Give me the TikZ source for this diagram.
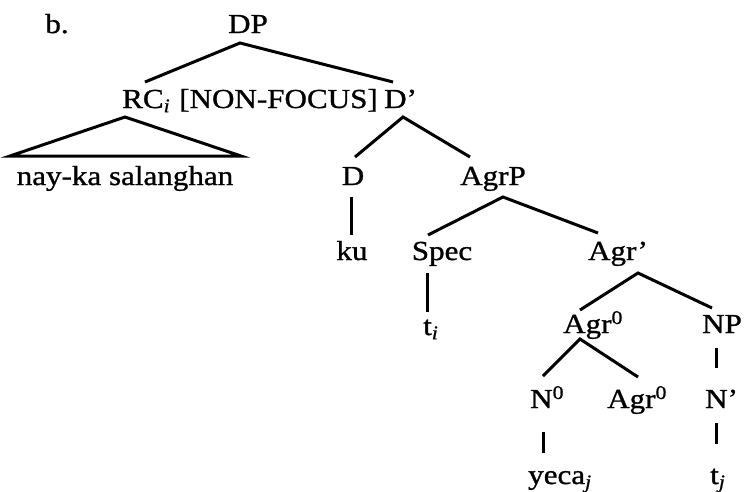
\documentclass[tikz,border=0pt]{standalone}
\usepackage{fontspec}
\setmainfont{Liberation Serif}[FakeStretch=1.13,FakeBold=1.0]
\usetikzlibrary{calc}
\newcommand\lsub[1]{\textsubscript{\itshape #1}}
\newcommand\lsup[1]{\textsuperscript{#1}}
\begin{document}
\begin{tikzpicture}[x=1pt,y=-1pt,
  lbl/.style={inner sep=0pt,font=\fontsize{27.5}{30}\selectfont},
  br/.style={line width=3pt}]
\useasboundingbox (0,0) rectangle (747,491);
% nodes
\node[lbl,anchor=base] (b) at (57,33) {b.};
\node[lbl,anchor=base] (DP) at (248,33) {DP};
\node[lbl,anchor=base west] (RC) at (122,108) {RC\lsub{i}};
\node[lbl,anchor=base east] (NF) at (378,108) {[NON-FOCUS]};
\node[lbl,anchor=base west] (Dp) at (384,108) {D’};
\node[lbl,anchor=base] (nay) at (125,185) {nay-ka salanghan};
\node[lbl,anchor=base] (D) at (353,185) {D};
\node[lbl,anchor=base] (AgrP) at (493,185) {AgrP};
\node[lbl,anchor=base] (ku) at (352,260) {ku};
\node[lbl,anchor=base] (Spec) at (442,260) {Spec};
\node[lbl,anchor=base] (Agrp) at (618,260) {Agr’};
\node[lbl,anchor=base west] (ti) at (423,335) {t\lsub{i}};
\node[lbl,anchor=base west] (AgrA) at (563,333) {Agr\lsup{0}};
\node[lbl,anchor=base] (NP) at (722,333) {NP};
\node[lbl,anchor=base west] (N0) at (530,408) {N\lsup{0}};
\node[lbl,anchor=base west] (AgrB) at (607,408) {Agr\lsup{0}};
\node[lbl,anchor=base west] (Np) at (705,408) {N’};
\node[lbl,anchor=base west] (yeca) at (528,484) {yeca\lsub{j}};
\node[lbl,anchor=base west] (tj) at (710,484) {t\lsub{j}};
% branches
\draw[br] ($(RC.base west)+(23,-26)$) -- ($(DP.base)+(-8,10)$) -- ($(Dp.base west)+(9,-26)$);
\draw[br] ($(nay.base)+(-115,-29)$) -- ($(RC.base west)+(3,9)$) -- ($(nay.base)+(116,-29)$) -- cycle;
\draw[br] ($(D.base)+(2,-28)$) -- ($(Dp.base west)+(19,9)$) -- ($(AgrP.base)+(-23,-28)$);
\draw[br] ($(D.base)+(-2,12)$) -- ($(ku.base)+(-1,-25)$);
\draw[br] ($(Spec.base)+(-14,-25)$) -- ($(AgrP.base)+(10,12)$) -- ($(Agrp.base)+(-20,-27)$);
\draw[br] ($(Spec.base)+(-15,13)$) -- ($(ti.base west)+(4,-23)$);
\draw[br] ($(AgrA.base west)+(17,-23)$) -- ($(Agrp.base)+(20,13)$) -- ($(NP.base)+(-10,-25)$);
\draw[br] ($(N0.base west)+(13,-32)$) -- ($(AgrA.base west)+(17,6)$) -- ($(AgrB.base west)+(31,-31)$);
\draw[br] ($(NP.base)+(-6,15)$) -- ($(Np.base west)+(11,-40)$);
\draw[br] ($(Np.base west)+(11,15)$) -- ($(tj.base west)+(6,-40)$);
\draw[br] ($(N0.base west)+(13,24)$) -- ($(yeca.base west)+(15,-31)$);
\end{tikzpicture}
\end{document}
